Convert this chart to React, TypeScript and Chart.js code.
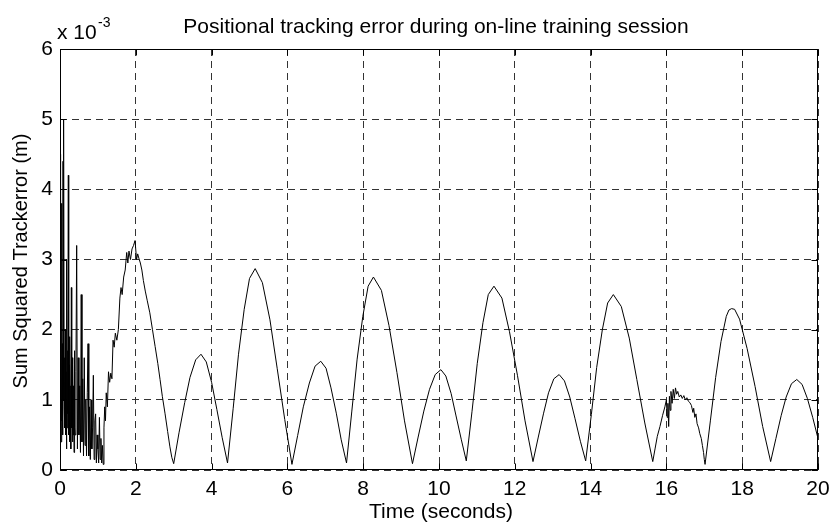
import React, { useEffect, useRef } from "react";
import { Chart, registerables } from "chart.js";

Chart.register(...registerables);

// Time (s), sum squared tracking error (x 10^-3 m)
const transientPts: [number, number][] = [
  [0.0, 4.5], [0.01, 0.6], [0.02, 2.2], [0.03, 0.4], [0.04, 3.8], [0.05, 0.7], [0.06, 1.8], [0.07, 0.5],
  [0.08, 4.4], [0.09, 1.0], [0.1, 5.0], [0.11, 0.9], [0.12, 1.6], [0.13, 0.6], [0.14, 2.0], [0.15, 0.5],
  [0.16, 1.4], [0.17, 0.3], [0.18, 3.0], [0.19, 0.6], [0.2, 1.7], [0.21, 0.8], [0.22, 4.2], [0.23, 0.5],
  [0.24, 1.5], [0.25, 0.4], [0.26, 1.9], [0.27, 0.7], [0.28, 1.2], [0.29, 0.3], [0.3, 2.6], [0.31, 0.6],
  [0.32, 1.6], [0.33, 0.4], [0.34, 1.5], [0.35, 0.5], [0.36, 1.2], [0.37, 0.25], [0.38, 1.7], [0.39, 0.6],
  [0.4, 0.5], [0.42, 1.4], [0.44, 3.2], [0.46, 0.3],
  [0.48, 1.6], [0.5, 0.5], [0.52, 1.2], [0.54, 0.25], [0.56, 2.5], [0.58, 0.4], [0.6, 1.3], [0.62, 0.2],
  [0.64, 1.6], [0.66, 0.35], [0.68, 1.0], [0.7, 0.2], [0.72, 1.1], [0.74, 1.8], [0.76, 0.2], [0.78, 0.9],
  [0.8, 0.15], [0.82, 1.0], [0.84, 0.3], [0.86, 0.6], [0.88, 1.35], [0.9, 0.15], [0.92, 0.7], [0.94, 0.8],
  [0.96, 0.1], [0.98, 0.5], [1.0, 0.3], [1.02, 0.1], [1.04, 0.75], [1.06, 0.15], [1.08, 0.45], [1.1, 0.1],
  [1.12, 0.35], [1.14, 0.08], [1.16, 0.6],
];

const firstPeakPts: [number, number][] = [
  [1.18, 0.9], [1.2, 0.7], [1.22, 1.1], [1.25, 0.9], [1.28, 1.4], [1.31, 1.25], [1.34, 1.38], [1.37, 1.3],
  [1.4, 1.85], [1.43, 1.75], [1.46, 1.95], [1.5, 1.85], [1.54, 2.0], [1.58, 2.45], [1.61, 2.6], [1.64, 2.5],
  [1.68, 2.75], [1.72, 2.85], [1.76, 3.1], [1.79, 2.95], [1.82, 3.12], [1.86, 3.0], [1.9, 3.15], [1.94, 3.2],
  [1.98, 3.27], [2.02, 3.0], [2.05, 3.08], [2.08, 3.02], [2.12, 2.95], [2.16, 2.85], [2.2, 2.7], [2.25, 2.55],
  [2.3, 2.42], [2.37, 2.24], [2.44, 2.0], [2.51, 1.76], [2.58, 1.52], [2.64, 1.29], [2.7, 1.05], [2.77, 0.81],
  [2.84, 0.55], [2.9, 0.33], [2.95, 0.18], [3.0, 0.09],
];

const humpPts: [number, number][] = [
  [3.14, 0.53], [3.29, 0.96], [3.43, 1.32], [3.58, 1.57], [3.72, 1.65], [3.86, 1.54], [4.0, 1.25], [4.14, 0.86], [4.28, 0.46], [4.42, 0.1],
  [4.57, 0.88], [4.71, 1.65], [4.86, 2.29], [5.0, 2.73], [5.15, 2.87], [5.34, 2.67], [5.54, 2.14], [5.73, 1.45], [5.93, 0.72], [6.12, 0.08],
  [6.27, 0.49], [6.42, 0.9], [6.58, 1.24], [6.73, 1.48], [6.88, 1.55], [7.02, 1.45], [7.15, 1.17], [7.29, 0.81], [7.42, 0.43], [7.56, 0.1],
  [7.7, 0.84], [7.84, 1.58], [7.99, 2.19], [8.13, 2.62], [8.27, 2.75], [8.48, 2.56], [8.68, 2.06], [8.89, 1.39], [9.09, 0.7], [9.3, 0.09],
  [9.45, 0.47], [9.6, 0.84], [9.75, 1.15], [9.9, 1.36], [10.05, 1.43], [10.18, 1.34], [10.32, 1.09], [10.45, 0.77], [10.59, 0.43], [10.72, 0.13],
  [10.87, 0.83], [11.01, 1.52], [11.16, 2.1], [11.3, 2.5], [11.45, 2.62], [11.66, 2.45], [11.86, 1.97], [12.07, 1.35], [12.27, 0.7], [12.48, 0.12],
  [12.62, 0.47], [12.76, 0.81], [12.89, 1.1], [13.03, 1.3], [13.17, 1.36], [13.31, 1.27], [13.45, 1.04], [13.59, 0.73], [13.73, 0.41], [13.87, 0.13],
  [14.02, 0.79], [14.16, 1.46], [14.31, 2.0], [14.45, 2.38], [14.6, 2.5], [14.81, 2.33], [15.02, 1.88], [15.22, 1.29], [15.43, 0.67], [15.64, 0.12],
];

const noisyHumpPts: [number, number][] = [
  [15.7, 0.3], [15.76, 0.48], [15.83, 0.62], [15.9, 0.78], [15.96, 0.9], [16.0, 1.0], [16.02, 0.75], [16.04, 0.95],
  [16.06, 0.62], [16.08, 1.05], [16.1, 0.85], [16.12, 1.12], [16.15, 0.95], [16.18, 1.15], [16.21, 1.02], [16.24, 1.17],
  [16.27, 1.08], [16.3, 1.12], [16.34, 1.04], [16.38, 1.07], [16.42, 1.02], [16.46, 1.06], [16.5, 1.0], [16.54, 1.03],
  [16.58, 0.98], [16.62, 0.96], [16.66, 0.92], [16.7, 0.82], [16.72, 0.88], [16.75, 0.75], [16.78, 0.8], [16.81, 0.66],
  [16.85, 0.6], [16.88, 0.52], [16.92, 0.45], [16.95, 0.35], [16.98, 0.25], [17.0, 0.15], [17.02, 0.08],
];

const lastHumpPts: [number, number][] = [
  [17.16, 0.7], [17.3, 1.32], [17.44, 1.83], [17.58, 2.19], [17.65, 2.28], [17.72, 2.3], [17.8, 2.29], [17.93, 2.15],
  [18.13, 1.73], [18.34, 1.19], [18.54, 0.62], [18.75, 0.12],
  [18.89, 0.45], [19.03, 0.78], [19.16, 1.04], [19.3, 1.23], [19.44, 1.29], [19.58, 1.22], [19.72, 1.02], [19.86, 0.75], [20.0, 0.45],
];

const xTickValues = [0, 2, 4, 6, 8, 10, 12, 14, 16, 18, 20];
const yTickValues = [0, 1, 2, 3, 4, 5, 6];

const titleText = "Positional tracking error during on-line training session";
const xTitleText = "Time (seconds)";
const yTitleText = "Sum Squared Trackerror (m)";
const multiplierText = "x 10";
const exponentText = "-3";

const FONT = "'Liberation Sans', Arial, Helvetica, sans-serif";

export default function App() {
  const ref = useRef<HTMLCanvasElement>(null);

  useEffect(() => {
    document.body.style.margin = "0";
    const canvas = ref.current;
    if (!canvas) return;

    const allPts = [...transientPts, ...firstPeakPts, ...humpPts, ...noisyHumpPts, ...lastHumpPts];
    const data = allPts.map(([x, y]) => ({ x, y }));

    const decor = {
      id: "decor",
      afterDraw(chart: any) {
        const { ctx, chartArea: a, scales } = chart;
        ctx.save();
        ctx.setLineDash([]);
        ctx.strokeStyle = "#000";
        ctx.lineWidth = 1;
        const L = Math.round(a.left) + 0.5;
        const R = Math.round(a.right) - 0.5;
        const T = Math.round(a.top) + 0.5;
        const B = Math.round(a.bottom) - 0.5;
        ctx.strokeRect(L, T, R - L, B - T);
        // inward tick marks
        ctx.beginPath();
        xTickValues.forEach((v) => {
          const px = Math.round(scales.x.getPixelForValue(v)) + 0.5;
          ctx.moveTo(px, B); ctx.lineTo(px, B - 6);
          ctx.moveTo(px, T); ctx.lineTo(px, T + 6);
        });
        yTickValues.forEach((v) => {
          const py = Math.round(scales.y.getPixelForValue(v)) + 0.5;
          ctx.moveTo(L, py); ctx.lineTo(L + 6, py);
          ctx.moveTo(R, py); ctx.lineTo(R - 6, py);
        });
        ctx.stroke();

        ctx.fillStyle = "#000";
        ctx.textBaseline = "alphabetic";
        ctx.font = `21px ${FONT}`;
        ctx.textAlign = "center";
        ctx.fillText(titleText, 436, 33);
        ctx.fillText(xTitleText, 441, 518);
        ctx.textAlign = "left";
        ctx.fillText(multiplierText, 57, 39);
        ctx.font = `14px ${FONT}`;
        ctx.fillText(exponentText, 98, 27);

        ctx.translate(27, 261);
        ctx.rotate(-Math.PI / 2);
        ctx.textAlign = "center";
        ctx.font = `20px ${FONT}`;
        ctx.fillText(yTitleText, 0, 0);
        ctx.restore();
      },
    };

    const chart = new Chart(canvas, {
      type: "scatter",
      data: {
        datasets: [
          {
            data,
            showLine: true,
            borderColor: "#000",
            borderWidth: 1,
            pointRadius: 0,
            tension: 0,
            fill: false,
          },
        ],
      },
      options: {
        animation: false,
        responsive: false,
        maintainAspectRatio: false,
        layout: { padding: { left: 0, right: 20, top: 49, bottom: 0 } },
        plugins: {
          legend: { display: false },
          title: { display: false },
          tooltip: { enabled: false },
        },
        scales: {
          x: {
            type: "linear",
            min: 0,
            max: 20,
            afterBuildTicks: (s: any) => {
              s.ticks = xTickValues.map((value) => ({ value }));
            },
            afterFit: (s: any) => {
              s.height = 55;
            },
            grid: { color: "#333", lineWidth: 1, drawTicks: false },
            border: { display: false, dash: [7, 5] },
            ticks: {
              padding: 7,
              color: "#000",
              font: { family: FONT, size: 21 },
              maxRotation: 0,
              autoSkip: false,
            },
          },
          y: {
            type: "linear",
            min: 0,
            max: 6,
            afterBuildTicks: (s: any) => {
              s.ticks = yTickValues.map((value) => ({ value }));
            },
            afterFit: (s: any) => {
              s.width = 60;
            },
            grid: { color: "#333", lineWidth: 1, drawTicks: false },
            border: { display: false, dash: [7, 5] },
            ticks: {
              padding: 7,
              color: "#000",
              font: { family: FONT, size: 21 },
            },
          },
        },
      },
      plugins: [decor],
    });

    return () => {
      chart.destroy();
    };
  }, []);

  return (
    <div style={{ width: 838, height: 525, background: "#fff" }}>
      <canvas ref={ref} width={838} height={525} style={{ display: "block", width: 838, height: 525 }} />
    </div>
  );
}
